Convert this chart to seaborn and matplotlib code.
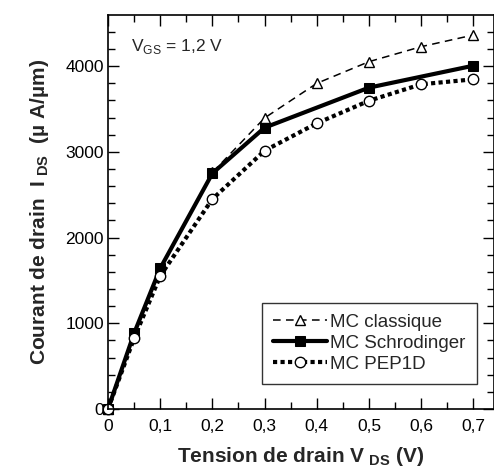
"""Courant de drain vs tension de drain, three Monte Carlo models."""

import matplotlib.pyplot as plt
import pandas as pd
import seaborn as sns
from matplotlib.ticker import MultipleLocator

# data
vds_classique = [0, 0.05, 0.1, 0.2, 0.3, 0.4, 0.5, 0.6, 0.7]
ids_classique = [0, 880, 1650, 2760, 3396, 3800, 4053, 4228, 4364]

vds_schrodinger = [0, 0.05, 0.1, 0.2, 0.3, 0.5, 0.7]
ids_schrodinger = [0, 883, 1641, 2750, 3283, 3750, 4006]

vds_pep1d = [0, 0.05, 0.1, 0.2, 0.3, 0.4, 0.5, 0.6, 0.7]
ids_pep1d = [0, 825, 1552, 2450, 3014, 3334, 3597, 3789, 3847]

labels = ["MC classique", "MC Schrodinger", "MC PEP1D"]
xtick_labels = ["0", "0,1", "0,2", "0,3", "0,4", "0,5", "0,6", "0,7"]

sns.set_style("ticks")
plt.rcParams["font.family"] = ["Liberation Sans", "DejaVu Sans"]
plt.rcParams["mathtext.fontset"] = "custom"
plt.rcParams["mathtext.rm"] = "Liberation Sans"
plt.rcParams["mathtext.bf"] = "Liberation Sans:bold"

fig = plt.figure(figsize=(4.94, 4.72), dpi=100)
ax = fig.add_axes([108 / 494, 1 - 409 / 472, 386 / 494, (409 - 15.3) / 472])

df_c = pd.DataFrame({"vds": vds_classique, "ids": ids_classique})
df_s = pd.DataFrame({"vds": vds_schrodinger, "ids": ids_schrodinger})
df_p = pd.DataFrame({"vds": vds_pep1d, "ids": ids_pep1d})

sns.lineplot(data=df_c, x="vds", y="ids", ax=ax, color="black", lw=1.1,
             linestyle=(0, (5, 3.5)), marker="^", markersize=7.5,
             markerfacecolor="white", markeredgecolor="black", mew=1.0,
             label=labels[0], clip_on=False)
sns.lineplot(data=df_s, x="vds", y="ids", ax=ax, color="black", lw=3,
             marker="s", markersize=7.5, markerfacecolor="black",
             markeredgecolor="black", label=labels[1], clip_on=False)
sns.lineplot(data=df_p, x="vds", y="ids", ax=ax, color="black", lw=3,
             linestyle=(0, (1, 0.8)), marker="o", markersize=7.5,
             markerfacecolor="white", markeredgecolor="black", mew=1.0,
             label=labels[2], clip_on=False)

ax.set_xlim(0, 0.7395)
ax.set_ylim(0, 4594)
ax.xaxis.set_minor_locator(MultipleLocator(0.05))
ax.yaxis.set_major_locator(MultipleLocator(1000))
ax.yaxis.set_minor_locator(MultipleLocator(200))
ax.set_xticks([0, 0.1, 0.2, 0.3, 0.4, 0.5, 0.6, 0.7])
ax.set_xticklabels(xtick_labels)
ax.tick_params(which="both", direction="in", top=True, right=True,
               labelsize=12.5, colors="black", width=1)
ax.tick_params(axis="x", pad=7)
ax.tick_params(axis="y", pad=3)
ax.tick_params(which="major", length=8)
ax.tick_params(which="minor", length=5)
for sp in ax.spines.values():
    sp.set_linewidth(1.2)
    sp.set_color("black")

ax.set_xlabel(r"Tension de drain V$_{\mathbf{\ DS}}$ (V)", fontsize=15,
              fontweight="bold", labelpad=8)
ax.set_ylabel(r"Courant de drain  I$_{\mathbf{\ DS}}$  (µ A/µm)", fontsize=15,
              fontweight="bold", labelpad=10)

ax.text(0.045, 4180, r"V$_{\mathrm{GS}}$ = 1,2 V", fontsize=12.5)

leg = ax.legend(loc="lower right", bbox_to_anchor=(0.98, 0.04),
                fontsize=13.5, frameon=True, fancybox=False,
                handlelength=2.9, handletextpad=0.15, borderpad=0.6,
                labelspacing=0.2)
leg.get_frame().set_edgecolor("black")
leg.get_frame().set_linewidth(1)

fig.savefig("out.png", dpi=100)
